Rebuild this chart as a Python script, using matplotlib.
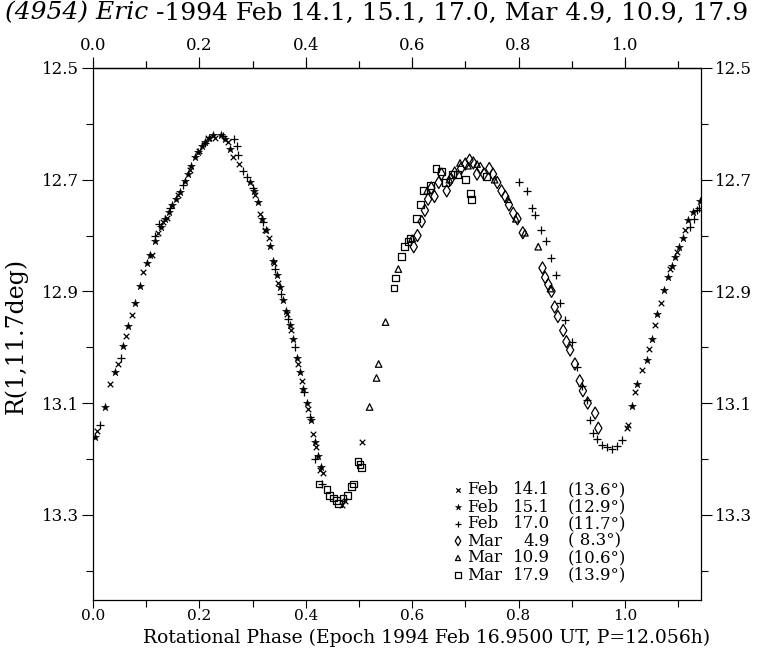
import matplotlib
matplotlib.use("Agg")
import matplotlib.pyplot as plt
from matplotlib.ticker import FixedLocator

plt.rcParams['font.family'] = ['DejaVu Serif']

# ---- data (phase, reduced magnitude) ----
feb14_phase = [0.008, 0.032, 0.047, 0.062, 0.073, 0.094, 0.111, 0.122, 0.132, 0.140, 0.160, 0.182, 0.200,
               0.216, 0.230, 0.254, 0.263, 0.275, 0.305, 0.314, 0.323, 0.330, 0.341, 0.348, 0.365, 0.373,
               0.386, 0.392, 0.405, 0.414, 0.420, 0.427, 0.433, 0.468, 0.474, 0.505, 1.003, 1.006, 1.018,
               1.032, 1.045, 1.056, 1.068, 1.085, 1.098, 1.113]
feb14_mag = [13.150, 13.066, 13.030, 12.980, 12.942, 12.866, 12.835, 12.795, 12.775, 12.768, 12.727, 12.682,
             12.648, 12.626, 12.625, 12.632, 12.660, 12.672, 12.728, 12.762, 12.790, 12.805, 12.850, 12.885,
             12.940, 12.970, 13.030, 13.060, 13.110, 13.155, 13.178, 13.220, 13.225, 13.282, 13.275, 13.170,
             13.145, 13.140, 13.080, 13.040, 13.003, 12.960, 12.920, 12.860, 12.830, 12.790]

feb15_phase = [0.004, 0.023, 0.041, 0.056, 0.066, 0.079, 0.088, 0.101, 0.108, 0.117, 0.128, 0.135, 0.143,
               0.149, 0.156, 0.163, 0.173, 0.178, 0.185, 0.192, 0.198, 0.205, 0.211, 0.218, 0.226, 0.240,
               0.248, 0.258, 0.296, 0.302, 0.310, 0.318, 0.325, 0.333, 0.338, 0.345, 0.351, 0.357, 0.362,
               0.370, 0.376, 0.383, 0.389, 0.395, 0.402, 0.410, 0.417, 0.423, 0.428, 1.013, 1.022, 1.041,
               1.050, 1.060, 1.073, 1.081, 1.088, 1.094, 1.102, 1.109, 1.118, 1.128, 1.141]
feb15_mag = [13.160, 13.107, 13.045, 12.998, 12.962, 12.920, 12.890, 12.850, 12.835, 12.810, 12.785, 12.770,
             12.758, 12.745, 12.735, 12.722, 12.703, 12.690, 12.675, 12.660, 12.650, 12.640, 12.632, 12.625,
             12.620, 12.620, 12.628, 12.645, 12.705, 12.720, 12.740, 12.770, 12.790, 12.818, 12.845, 12.870,
             12.892, 12.915, 12.935, 12.960, 12.985, 13.020, 13.045, 13.075, 13.100, 13.130, 13.170, 13.195,
             13.215, 13.105, 13.065, 13.022, 12.985, 12.940, 12.898, 12.874, 12.855, 12.838, 12.820, 12.805,
             12.772, 12.758, 12.738]

feb17_phase = [0.013, 0.053, 0.116, 0.125, 0.145, 0.170, 0.210, 0.245, 0.266, 0.270, 0.272, 0.282, 0.290,
               0.300, 0.320, 0.343, 0.354, 0.367, 0.380, 0.397, 0.408, 0.418, 0.430, 0.801, 0.815, 0.825,
               0.831, 0.842, 0.851, 0.861, 0.870, 0.878, 0.887, 0.900, 0.910, 0.920, 0.928, 0.935, 0.940,
               0.948, 0.957, 0.966, 0.976, 0.985, 0.994, 1.123, 1.130, 1.136, 1.140]
feb17_mag = [13.140, 13.020, 12.800, 12.780, 12.750, 12.710, 12.635, 12.622, 12.628, 12.640, 12.655, 12.685,
             12.695, 12.715, 12.776, 12.860, 12.905, 12.950, 13.000, 13.080, 13.125, 13.200, 13.245, 12.705,
             12.720, 12.750, 12.763, 12.790, 12.810, 12.840, 12.870, 12.920, 12.952, 12.990, 13.035, 13.070,
             13.095, 13.130, 13.154, 13.165, 13.175, 13.178, 13.182, 13.176, 13.166, 12.785, 12.770, 12.755,
             12.750]

mar4_phase = [0.603, 0.610, 0.618, 0.624, 0.630, 0.636, 0.642, 0.650, 0.655, 0.665, 0.672, 0.680, 0.692,
              0.700, 0.708, 0.715, 0.722, 0.728, 0.735, 0.745, 0.752, 0.760, 0.768, 0.775, 0.782, 0.790,
              0.798, 0.808, 0.845, 0.850, 0.856, 0.862, 0.868, 0.874, 0.884, 0.890, 0.897, 0.906, 0.915,
              0.921, 0.930, 0.944, 0.950]
mar4_mag = [12.820, 12.800, 12.775, 12.755, 12.735, 12.715, 12.730, 12.705, 12.690, 12.720, 12.700, 12.688,
            12.680, 12.672, 12.665, 12.670, 12.690, 12.680, 12.690, 12.680, 12.690, 12.705, 12.720, 12.730,
            12.745, 12.760, 12.770, 12.795, 12.858, 12.875, 12.888, 12.900, 12.928, 12.945, 12.970, 12.990,
            13.005, 13.030, 13.060, 13.078, 13.100, 13.118, 13.145]

mar10_phase = [0.520, 0.533, 0.537, 0.550, 0.574, 0.600, 0.628, 0.670, 0.690, 0.705, 0.722, 0.755, 0.780,
               0.795, 0.812, 0.837, 0.860]
mar10_mag = [13.107, 13.055, 13.030, 12.955, 12.860, 12.805, 12.720, 12.700, 12.670, 12.675, 12.672, 12.700,
             12.735, 12.770, 12.795, 12.820, 12.895]

mar17_phase = [0.425, 0.440, 0.445, 0.452, 0.458, 0.462, 0.470, 0.478, 0.486, 0.490, 0.498, 0.502, 0.505,
               0.566, 0.569, 0.580, 0.586, 0.592, 0.596, 0.608, 0.615, 0.622, 0.634, 0.645, 0.655, 0.662,
               0.676, 0.685, 0.700, 0.709, 0.712, 0.740]
mar17_mag = [13.245, 13.255, 13.265, 13.270, 13.275, 13.280, 13.270, 13.265, 13.250, 13.245, 13.205, 13.210,
             13.215, 12.894, 12.876, 12.838, 12.820, 12.810, 12.805, 12.770, 12.745, 12.720, 12.710, 12.680,
             12.685, 12.705, 12.690, 12.690, 12.700, 12.725, 12.735, 12.695]

legend_month = ["Feb", "Feb", "Feb", "Mar", "Mar", "Mar"]
legend_day = ["14.1", "15.1", "17.0", "4.9", "10.9", "17.9"]
legend_angle = ["(13.6°)", "(12.9°)", "(11.7°)", "( 8.3°)", "(10.6°)", "(13.9°)"]

y_major_ticks = [12.5, 12.7, 12.9, 13.1, 13.3]
y_minor_ticks = [12.6, 12.8, 13.0, 13.2, 13.4]
x_major_ticks = [0.0, 0.2, 0.4, 0.6, 0.8, 1.0]
x_minor_ticks = [0.1, 0.3, 0.5, 0.7, 0.9, 1.1]

series = [
    (feb14_phase, feb14_mag, dict(marker='x', s=16, c='black', linewidths=0.9)),
    (feb15_phase, feb15_mag, dict(marker='*', s=36, c='black', linewidths=0.3)),
    (feb17_phase, feb17_mag, dict(marker='+', s=28, c='black', linewidths=0.9)),
    (mar4_phase, mar4_mag, dict(marker='d', s=38, facecolors='none', edgecolors='black', linewidths=0.9)),
    (mar10_phase, mar10_mag, dict(marker='^', s=22, facecolors='none', edgecolors='black', linewidths=0.9)),
    (mar17_phase, mar17_mag, dict(marker='s', s=24, facecolors='none', edgecolors='black', linewidths=0.9)),
]

fig = plt.figure(figsize=(7.72, 6.48), dpi=100)
ax = fig.add_axes([93/772, 1-600/648, (701-93)/772, (600-68)/648])

for ph, mg, st in series:
    ax.scatter(ph, mg, zorder=3, **st)

ax.set_xlim(0, 1.143)
ax.set_ylim(13.4526, 12.5)

ax.xaxis.set_major_locator(FixedLocator(x_major_ticks))
ax.xaxis.set_minor_locator(FixedLocator(x_minor_ticks))
ax.yaxis.set_major_locator(FixedLocator(y_major_ticks))
ax.yaxis.set_minor_locator(FixedLocator(y_minor_ticks))
ax.xaxis.set_major_formatter(plt.FormatStrFormatter('%.1f'))
ax.yaxis.set_major_formatter(plt.FormatStrFormatter('%.1f'))

ax.tick_params(which='both', direction='out', top=True, right=True,
               labeltop=False, labelright=True, labelsize=12, width=0.8, color='black')
ax.tick_params(which='major', length=8, pad=2)
ax.tick_params(which='minor', length=5)
ax.tick_params(axis='x', which='major', labelsize=11, length=6, pad=0.5)
for sp in ax.spines.values():
    sp.set_linewidth(0.9)

# top axis labels (same phase scale)
sec = ax.secondary_xaxis('top')
sec.xaxis.set_major_locator(FixedLocator(x_major_ticks))
sec.xaxis.set_minor_locator(FixedLocator(x_minor_ticks))
sec.xaxis.set_major_formatter(plt.FormatStrFormatter('%.1f'))
sec.tick_params(which='both', direction='out', labelsize=12, width=0.8)
sec.tick_params(which='major', length=8, pad=2)
sec.tick_params(which='minor', length=5)
sec.spines['top'].set_linewidth(0.9)

ax.set_xlabel("Rotational Phase (Epoch 1994 Feb 16.9500 UT, P=12.056h)", fontsize=13.5, va='baseline')
ax.xaxis.set_label_coords((427 - 93) / 608, (600 - 643) / 532)
ax.set_ylabel("R(1,11.7deg)", fontsize=17, va='center')
ax.yaxis.set_label_coords((16 - 93) / 608, 0.496)

# legend drawn as aligned columns
leg_styles = [st for _, _, st in series]
y0 = 1 - (490 - 68) / 532
dy = 17.0 / 532
for i in range(6):
    yy = y0 - i * dy
    st = dict(leg_styles[i])
    st['s'] = st['s'] * 0.6
    ax.scatter([(458 - 93) / 608], [yy], transform=ax.transAxes, clip_on=False, zorder=4, **st)
    ax.text((467 - 93) / 608, yy, legend_month[i], transform=ax.transAxes, ha='left', va='center', fontsize=12)
    ax.text((550 - 93) / 608, yy, legend_day[i], transform=ax.transAxes, ha='right', va='center', fontsize=12)
    ax.text((568 - 93) / 608, yy, legend_angle[i], transform=ax.transAxes, ha='left', va='center', fontsize=12)

# title: italic object name followed by roman dates
t1 = fig.text(5/772, 1 - 13/648, "(4954) Eric", fontsize=18, style='italic', ha='left', va='center')
fig.canvas.draw()
bb = t1.get_window_extent(fig.canvas.get_renderer())
fig.text((bb.x1 + 8) / 772, 1 - 13/648, "-1994 Feb 14.1, 15.1, 17.0, Mar 4.9, 10.9, 17.9",
         fontsize=18, ha='left', va='center')

fig.savefig("out.png", dpi=100)
